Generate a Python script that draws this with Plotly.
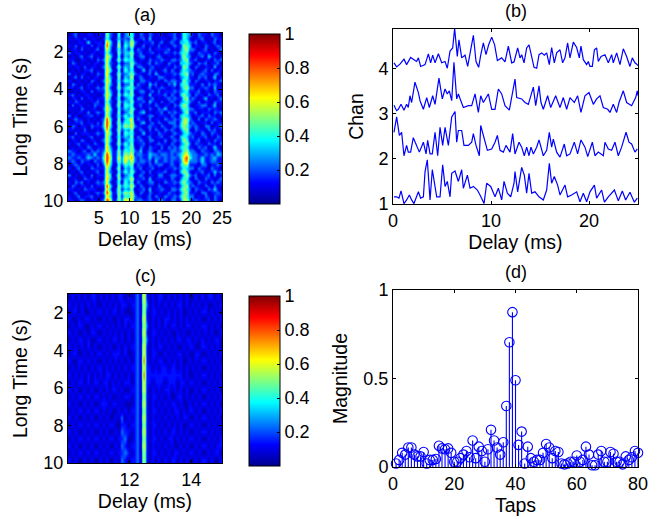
import plotly.graph_objects as go

W, H = 671, 519
FONT = "Liberation Sans, Arial, sans-serif"

rows_a = """
0120101101 1052104023 4102102101 1011201432 1021102110
1011020110 0142013121 5011203010 1101211431 0112010211
0101103011 1074105032 6210111201 2012103342 1201101201
1020110201 1183106042 6101201102 0101211543 0110210121
0110201012 0163014131 4021102011 1120102452 2101201012
2011010110 1152105133 5112011201 0211213441 1021110210
0101201201 0164104032 5012201012 1010102532 0112031101
1100110102 1263015143 4101102111 2102212451 1200110212
0210101011 0162103022 5211012021 1021103342 1021201120
1011020110 1263015132 5022101201 0110211541 0210110301
0101011201 0164104042 4101302110 1202102432 1101202011
2010110102 1172015123 5211012031 0111213451 2012110220
0120201011 0163105032 6012101102 2101102341 1021201301
1001010210 1264014143 4102211011 0212211532 0210110112
0210101101 0163105022 5021103120 1021303441 1102021210
1101201012 1262015134 4211012011 2101102452 2011210301
0010110201 1163104032 5012201202 0111212341 1120110211
1201011010 0264105143 5101103011 1202103532 0211021120
0110201101 1163014023 4022101201 0121211451 2101301012
1021010112 0152105132 5111203110 2012102342 1020110211
0201101021 1163015043 4012011021 0110213541 0112201301
1010210110 0264104132 5201102102 1301102442 2011021110
0101102012 1163105023 5012301011 2021211351 1201110212
2010011201 0163014142 4111012201 1102103432 0112021101
0121101010 1284105034 6021102011 0211212552 1020211210
1011201102 0385015143 6102301202 1022203551 2101102011
0210110211 1384105254 6211012110 2101213542 1210220112
1101020101 0273015132 5012102021 0212102451 0211021201
0020111012 1164105043 4101301102 1101211342 1102102110
1201001201 0163014132 5021012011 2012103431 2011201021
0110210110 1263105023 4112102201 0201212541 1120110211
1012011021 0162015142 5011201012 1102102352 0211021102
0101102101 1173104033 5102102110 2021213441 1021201310
2110120212 1264115143 5213012102 1112212452 2102110221
1211112131 1385115154 6122113221 2212123563 2211212132
2112113212 1486116265 7212113122 1212213684 2213112311
1210211021 1385115263 6212212031 1212112672 2213112211
0121101102 0274104143 5021102112 2012103451 1102201121
1012010211 1163015032 4112011201 0111212432 2021102110
0101201012 0162104142 5201202011 1201103541 0112011312
2010110201 1164015023 4012101102 2012211352 1201120201
0110021101 0173105133 6111203011 1102102441 0210211012
1021201012 1262014042 5021012201 0211213532 1021102121
0210110201 1184105243 6202101102 1011102451 2110210201
1101021110 0173015132 5011203011 2102213542 0211021310
0120101012 1285115254 6102102101 1021102451 1102201121
1012011201 0164105143 6211012021 0211213542 2010210211
1101210110 1286115265 6122112102 2102202552 1211120210
"""

rows_c = """
0101010110 1010101101 0120710101 1010101010 0101011010
1010101010 0101010110 1120620101 0101011010 1010100101
0110100101 1010110100 0120610110 1010101001 0101101010
1001011010 0101001011 0120710101 0110101010 1010010101
0101100101 1010101010 1120620101 0101101011 0101101010
1010010110 0101010101 0120710110 1010010100 1010101001
0101101001 1010110101 0120620101 0101011011 0101010110
1010101010 0101001010 1120710101 1010100101 1001101010
0110010101 1010111010 0120710110 0101011010 0110010101
1001101010 0101010101 0120810101 1010101001 0101101010
0101010101 1010101010 1120711010 1101101010 1010010101
1010101010 1011010101 0120811111 1111111010 0101101010
0101101011 0110101011 0120711011 1011101101 1010010101
1010010100 1010110100 1120710101 0110101010 0101101010
0101101011 0101001011 0120610110 1010011010 1010010101
1010010100 1110110100 0120710101 0101101001 0101101010
0101101011 0101001010 1120610110 1010110101 1010010101
1010010100 1010010201 0120710101 0101010110 0101101010
0101101011 0101100110 1120610110 1010101001 1010010101
1010010100 1010010211 0120710101 0101101010 0101101010
0101101011 0101101120 0120610110 1011010101 1010010101
1010010100 1010010210 1120710101 0101001010 0101101011
0101101011 0101101121 0120610110 1010110101 1010010110
1010010100 1010010210 1120610101 0101101010 0101101001
"""

t1 = [0.1,0.37,0.54,0.61,0.82,1.12,1.39,1.67,1.9,2.14,2.59,2.82,3.1,3.27,3.5,3.78,4.01,4.29,4.46,4.8,5.07,5.31,5.54,5.82,5.99,6.33,6.67,7.01,7.18,7.59,7.86,8.2,8.61,8.88,9.29,9.56,9.97,10.41,10.75,11.09,11.33,11.67,12.01,12.35,12.45,12.72,13.13,13.4,13.64,13.88,14.15,14.49,14.9,15.34,15.68,15.95,16.19,16.46,16.8,17.04,17.55,17.82,18.23,18.74,19.08,19.42,19.76,20.1,20.55,20.78,21.29,21.57,21.97,22.59,22.99,23.4,23.74,24.18,24.63,24.93]
v1 = [1.16,1.16,1.14,1.13,1.29,1.01,1.09,1.20,1.09,1.01,1.27,1.13,1.16,1.72,1.98,1.09,1.76,1.39,1.16,1.16,1.87,1.39,1.50,1.16,1.68,1.73,1.50,1.76,1.35,1.64,1.35,1.39,1.31,1.20,1.01,1.46,1.39,1.16,1.35,1.09,1.50,1.24,1.16,1.46,1.72,1.27,1.81,1.64,1.24,1.68,1.24,1.27,1.16,1.09,1.31,1.90,1.46,1.61,1.42,1.20,1.42,1.16,1.20,1.27,1.05,1.24,1.05,1.27,1.42,1.13,1.31,1.04,1.16,1.31,1.07,1.29,1.09,1.26,1.04,1.13]

t2 = [0.1,0.37,0.65,0.88,1.12,1.39,1.56,1.8,2.07,2.41,2.69,3.1,3.37,3.54,3.78,4.01,4.29,4.56,4.8,5.07,5.31,5.65,5.99,6.33,6.5,6.67,7.01,7.24,7.69,8.03,8.2,8.47,8.81,8.95,9.29,9.63,10.07,10.41,10.65,10.92,11.26,11.53,11.94,12.21,12.45,12.86,13.13,13.4,13.64,13.88,14.08,14.32,14.66,14.9,15.34,15.68,15.95,16.19,16.36,16.7,17.04,17.48,17.72,18.06,18.5,18.84,19.18,19.59,19.87,20.34,20.61,20.95,21.46,21.63,21.97,22.31,22.65,22.99,23.33,23.78,24.08,24.35,24.69,24.93]
v2 = [2.59,2.93,2.52,2.59,2.07,2.30,2.15,2.15,2.47,2.30,2.15,2.37,2.11,2.41,2.11,2.11,2.59,2.07,2.70,2.30,2.70,2.30,2.93,3.05,2.37,2.63,2.63,2.30,2.30,2.37,2.56,2.30,2.07,2.74,2.48,2.19,2.22,2.37,2.52,2.19,2.15,2.30,2.15,2.56,2.11,2.37,2.26,2.07,2.26,2.07,2.26,2.11,2.26,2.42,2.07,2.19,2.59,2.26,2.44,2.15,2.04,2.33,2.07,2.11,2.37,2.11,2.42,2.26,2.05,2.37,2.07,2.15,2.07,2.37,2.22,2.19,2.37,2.07,2.26,2.59,2.37,2.33,2.15,2.22]

t3 = [0.1,0.37,0.54,0.82,1.12,1.39,1.56,1.73,1.9,2.24,2.59,2.76,3.1,3.44,3.71,4.05,4.29,4.69,5.03,5.31,5.54,5.75,5.99,6.22,6.5,6.67,6.9,7.18,7.69,8.03,8.37,8.71,8.95,9.22,9.73,10.07,10.41,10.75,11.09,11.43,11.87,12.28,12.45,12.62,13.13,13.47,13.81,14.32,14.56,14.9,15.1,15.34,15.78,16.09,16.6,17.04,17.38,17.72,18.06,18.5,18.84,19.18,19.59,20.0,20.44,20.78,21.12,21.46,21.91,22.14,22.48,22.82,23.06,23.5,23.84,24.35,24.76,24.93,25.0]
v3 = [3.19,3.07,3.10,3.21,3.08,3.21,3.14,3.40,3.25,3.70,3.47,3.29,3.10,3.36,3.14,3.40,3.21,3.79,3.33,3.55,3.44,3.51,3.29,4.14,3.33,3.44,3.30,3.14,3.18,3.18,3.44,3.03,3.40,3.25,3.44,3.10,3.10,3.55,3.44,3.18,3.08,3.51,3.77,3.36,3.33,3.25,3.21,3.59,3.18,3.62,3.25,3.10,3.40,3.14,3.40,3.14,3.36,3.10,3.36,3.25,3.40,3.03,3.40,3.47,3.21,3.33,3.40,3.14,3.10,3.03,3.21,3.03,3.25,3.51,3.25,3.18,3.36,3.51,3.40]

t4 = [0.1,0.37,0.71,1.12,1.39,1.8,2.14,2.41,2.59,2.82,3.27,3.61,3.84,4.05,4.29,4.63,4.97,5.31,5.54,5.82,6.09,6.29,6.56,6.73,7.01,7.35,7.62,8.2,8.47,8.74,8.95,9.22,9.49,9.76,10.07,10.37,10.65,11.09,11.43,11.77,12.11,12.35,12.72,12.96,13.13,13.37,13.64,13.88,14.15,14.39,14.66,14.9,15.17,15.44,15.68,15.95,16.19,16.46,16.7,17.04,17.31,17.55,17.82,18.06,18.4,18.74,19.01,19.18,19.42,19.76,19.93,20.1,20.34,20.55,20.78,20.95,21.23,21.63,21.97,22.31,22.48,22.82,23.16,23.5,23.84,24.18,24.42,24.69,24.87,25.0]
v4 = [4.13,4.04,4.10,4.21,4.09,4.25,4.20,4.16,4.24,4.05,4.09,4.33,4.13,4.30,4.13,4.33,4.13,4.16,4.01,4.39,4.46,4.89,4.27,4.64,4.24,4.30,4.05,4.74,4.16,4.03,4.30,4.57,4.31,4.53,4.70,4.53,4.18,4.24,4.15,4.50,4.13,4.15,4.46,4.24,4.31,4.13,4.46,4.53,4.27,4.03,4.01,4.31,4.35,4.30,4.35,4.09,4.47,4.13,4.35,4.42,4.13,4.24,4.57,4.24,4.59,4.47,4.24,4.50,4.20,4.09,4.16,4.05,4.05,4.42,4.46,4.16,4.27,4.31,4.13,4.31,4.13,4.35,4.09,4.44,4.27,4.05,4.24,4.13,4.10,4.07]

taps = list(range(1, 81))
mags = [.02,.04,.08,.07,.11,.11,.07,.06,.06,.085,.02,.04,.04,.045,.12,.105,.10,.105,.08,.03,
        .03,.05,.07,.09,.055,.15,.05,.115,.09,.03,.10,.21,.15,.11,.07,.14,.345,.705,.875,.49,
        .125,.20,.02,.115,.05,.03,.04,.04,.08,.13,.11,.05,.09,.085,.02,.015,.02,.03,.03,.065,
        .03,.04,.115,.07,.01,.01,.07,.09,.03,.03,.085,.075,.03,.03,.015,.06,.04,.055,.09,.08]

cbar_ticks = [0.2, 0.4, 0.6, 0.8, 1]
jet = [[0, "#00008f"], [0.125, "#0000ff"], [0.375, "#00ffff"], [0.625, "#ffff00"], [0.875, "#ff0000"], [1, "#800000"]]


def decode(text):
    return [[int(c) / 10 + 0.04 for c in line.replace(" ", "")] for line in text.strip().splitlines()]


def dom_x(a, b):
    return [a / W, b / W]


def dom_y(top, bottom):
    return [1 - bottom / H, 1 - top / H]


fig = go.Figure()


def cbar(top):
    return dict(thickness=31, thicknessmode="pixels", len=170, lenmode="pixels",
                x=249 / W, xanchor="left", xpad=0, y=1 - top / H, yanchor="top", ypad=0,
                outlinecolor="black", outlinewidth=1, tickvals=cbar_ticks,
                ticktext=["0.2", "0.4", "0.6", "0.8", "1"], ticks="inside", ticklen=3,
                tickcolor="black", tickfont=dict(family=FONT, size=18, color="black"))


fig.add_trace(go.Heatmap(z=decode(rows_a), x0=0.25, dx=0.5, y0=1 + 9 / 96, dy=9 / 48, zmin=0, zmax=1,
                         colorscale=jet, zsmooth="best", colorbar=cbar(34), xaxis="x", yaxis="y"))
fig.add_trace(go.Heatmap(z=decode(rows_c), x0=10.05, dx=0.1, y0=1 + 9 / 48, dy=9 / 24, zmin=0, zmax=1,
                         colorscale=jet, zsmooth="best", colorbar=cbar(296), xaxis="x3", yaxis="y3"))
for t, v in [(t1, v1), (t2, v2), (t3, v3), (t4, v4)]:
    fig.add_trace(go.Scatter(x=t, y=v, mode="lines", line=dict(color="#0000ff", width=1.2),
                             xaxis="x2", yaxis="y2", showlegend=False))
fig.add_trace(go.Scatter(x=taps, y=mags, mode="markers", cliponaxis=False,
                         marker=dict(symbol="circle-open", size=9.5, color="#0000ff", line=dict(width=1.1)),
                         error_y=dict(type="data", symmetric=False, array=[0] * len(mags), arrayminus=mags,
                                      width=0, thickness=1.1, color="#0000ff"),
                         xaxis="x4", yaxis="y4", showlegend=False))

base = dict(showline=True, linecolor="black", linewidth=1, mirror="allticks", ticks="inside", ticklen=3,
            tickcolor="black", showgrid=False, zeroline=False, automargin=False,
            tickfont=dict(family=FONT, size=18, color="black"))


def ttl(text, standoff):
    return dict(text=text, font=dict(family=FONT, size=19.5, color="black"), standoff=standoff)


fig.update_layout(
    width=W, height=H, margin=dict(l=0, r=0, t=0, b=0), paper_bgcolor="white", plot_bgcolor="white",
    showlegend=False,
    xaxis=dict(base, domain=dom_x(68, 222), range=[0, 25], tickvals=[5, 10, 15, 20, 25], title=ttl("Delay (ms)", 5), anchor="y"),
    yaxis=dict(base, domain=dom_y(33, 201), range=[10, 1], tickvals=[2, 4, 6, 8, 10], title=ttl("Long Time (s)", 10), anchor="x"),
    xaxis2=dict(base, domain=dom_x(393, 638), range=[0, 25], tickvals=[0, 10, 20], title=ttl("Delay (ms)", 5), anchor="y2"),
    yaxis2=dict(base, domain=dom_y(29, 204), range=[1, 4.88], tickvals=[1, 2, 3, 4], title=ttl("Chan", 9), anchor="x2"),
    xaxis3=dict(base, domain=dom_x(68, 222), range=[10, 15], tickvals=[12, 14], title=ttl("Delay (ms)", 5), anchor="y3"),
    yaxis3=dict(base, domain=dom_y(294, 463), range=[10, 1], tickvals=[2, 4, 6, 8, 10], title=ttl("Long Time (s)", 10), anchor="x3"),
    xaxis4=dict(base, domain=dom_x(393, 638), range=[0, 80], tickvals=[0, 20, 40, 60, 80], title=ttl("Taps", 5), anchor="y4"),
    yaxis4=dict(base, domain=dom_y(290, 467), range=[0, 1], tickvals=[0, 0.5, 1], ticktext=["0", "0.5", "1"], title=ttl("Magnitude", 10), anchor="x4"),
    annotations=[
        dict(text=s, x=(a + b) / 2 / W, y=1 - yy / H, xref="paper", yref="paper", showarrow=False, xanchor="center",
             yanchor="middle", font=dict(family=FONT, size=18, color="black"))
        for s, a, b, yy in [("(a)", 68, 222, 15), ("(b)", 393, 638, 11), ("(c)", 68, 222, 276), ("(d)", 393, 638, 272)]
    ],
)

fig.write_html("out.html", config={"displayModeBar": False},
               post_script="document.body.style.margin='0';document.documentElement.style.overflow='hidden';")
